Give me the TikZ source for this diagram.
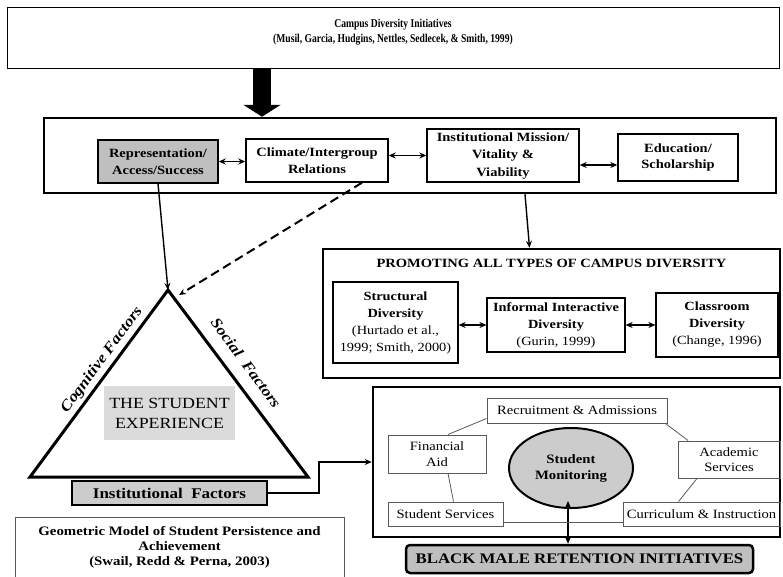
\documentclass[tikz,border=0pt]{standalone}
\usepackage{fontspec}
\setmainfont{Liberation Serif}[FakeStretch=1.15]
\newfontfamily\narrowserif{Liberation Serif}[FakeStretch=0.8]
\usetikzlibrary{arrows.meta, shapes.geometric}

\definecolor{darkfill}{gray}{0.75}
\definecolor{midfill}{gray}{0.80}
\definecolor{lightfill}{gray}{0.86}
\definecolor{thinline}{gray}{0.35}

\newcommand{\fs}[2]{\fontsize{#1}{#2}\selectfont}

\tikzset{
    rowbox/.style={draw,line width=1.4pt,align=center,inner sep=1pt,font=\fs{12.6}{16.5}\bfseries},
    typebox/.style={draw,line width=1.2pt,align=center,inner sep=1pt,font=\fs{12.5}{17}},
    unitbox/.style={draw=thinline,line width=1pt,align=center,inner sep=1pt,font=\fs{12.7}{15.5}},
    frame/.style={draw,line width=2.5pt,inner sep=0pt},
    linkline/.style={draw=thinline,line width=0.8pt}
}

\begin{document}
\begin{tikzpicture}[x=1pt,y=-1pt]
\useasboundingbox (0,0) rectangle (783,576);

% % frames
\node (top) at (393,37.5) [draw,line width=1pt,minimum width=772,minimum height=61] {};
\node (toptitle) at (393,32.5) [align=center,font=\narrowserif\bfseries\fs{12}{15}] {Campus Diversity Initiatives\\(Musil, Garcia, Hudgins, Nettles, Sedlecek, \& Smith, 1999)};
\node (midbox) at (410,155.5) [frame,minimum width=732,minimum height=75] {};
\node (pbox) at (551.5,313.5) [frame,minimum width=457,minimum height=129] {};
\node (ptitle) at (551.5,263) [font=\fs{12.6}{15}\bfseries] {PROMOTING ALL TYPES OF CAMPUS DIVERSITY};
\node (rbox) at (576.5,462) [frame,minimum width=407,minimum height=150] {};
\node (geo) at (179.5,517) [anchor=north,draw=thinline,line width=1pt,minimum width=329,minimum height=60,align=center,font=\fs{12.9}{15}\bfseries] {Geometric Model of Student Persistence and\\Achievement\\(Swail, Redd \& Perna, 2003)};

% % campus diversity row
\node (rep) at (158,161.5) [rowbox,fill=darkfill,minimum width=120,minimum height=43] {Representation/\\Access/Success};
\node (climate) at (317,160.5) [rowbox,minimum width=142,minimum height=43] {Climate/Intergroup\\Relations};
\node (inst) at (503,155.5) [rowbox,minimum width=152,minimum height=53,font=\fs{12.6}{17.5}\bfseries] {Institutional Mission/\\Vitality \&\\Viability};
\node (edu) at (678,157.5) [rowbox,minimum width=120,minimum height=47] {Education/\\Scholarship};

% % types of diversity
\node (struct) at (395.5,322.5) [typebox,minimum width=125,minimum height=81] {\textbf{Structural}\\\textbf{Diversity}\\(Hurtado et al.,\\1999; Smith, 2000)};
\node (inform) at (556,325) [typebox,minimum width=138,minimum height=54] {\textbf{Informal Interactive}\\\textbf{Diversity}\\(Gurin, 1999)};
\node (class) at (717,325) [typebox,minimum width=122,minimum height=64] {\textbf{Classroom}\\\textbf{Diversity}\\(Change, 1996)};

% % student experience triangle
\coordinate (apex) at (168,290);
\coordinate (bl) at (30,477);
\coordinate (br) at (308,477);
\coordinate (sideend) at (179,295);
\draw [line width=3pt] (apex) -- (bl) -- (br) -- cycle;
\node (cog) at (102,360) [rotate=53.6,font=\fs{15}{17}\bfseries\itshape] {Cognitive Factors};
\node (soc) at (246,363) [rotate=-53.6,font=\fs{15}{17}\bfseries\itshape] {Social\ \ Factors};
\node (exp) at (169.5,413) [fill=lightfill,minimum width=131,minimum height=54,align=center,font=\fs{15.5}{20}] {THE STUDENT\\EXPERIENCE};
\node (instf) at (169.5,493) [draw,line width=2.5pt,fill=midfill,minimum width=195,minimum height=24,font=\fs{14.8}{16}\bfseries] {Institutional\ \ Factors};

% % retention units
\node (recruit) at (577,410.5) [unitbox,minimum width=180,minimum height=25] {Recruitment \& Admissions};
\node (finaid) at (437,454) [unitbox,minimum width=98,minimum height=38] {Financial\\Aid};
\node (studserv) at (445.5,514) [unitbox,minimum width=115,minimum height=24] {Student Services};
\node (acad) at (729,459.5) [unitbox,minimum width=102,minimum height=37] {Academic\\Services};
\node (curric) at (701.5,514) [unitbox,minimum width=157,minimum height=24] {Curriculum \& Instruction};
\node (monitor) at (571,468) [ellipse,draw,line width=2pt,fill=midfill,minimum width=124,minimum height=80,inner sep=0pt,align=center,font=\fs{12.8}{16}\bfseries] {Student\\Monitoring};
\node (bmri) at (579.5,559) [draw,line width=2.5pt,rounded corners=4pt,fill=darkfill,minimum width=347,minimum height=28,font=\fs{14.6}{16}\bfseries] {BLACK MALE RETENTION INITIATIVES};

% % connectors
\draw [line width=18pt,-{Triangle[width=37pt,length=12pt]}] ([xshift=-131]top.south) -- ([xshift=-148]midbox.north);

\begin{scope}[>={Stealth[length=7pt,width=6pt]},
              every edge/.style={draw,line width=1.4pt}]
    \path [<->] (rep.east) edge (rep.east -| climate.west);
    \path [<->] (climate.east |- inst) edge (inst.west);
    \path [<->] ([yshift=-9.5]inst.east) edge ([yshift=-9.5]inst.east -| edu.west);
    \path [<->] (struct.east |- inform) edge (inform.west);
    \path [<->] (inform.east) edge (class.west);

    \coordinate (instout) at ([xshift=22]inst.south |- midbox.south);
    \path [->] (instout) edge ([xshift=-22]pbox.north);
    \path [->] (rep.south) edge (apex);
    \path [->] ([xshift=45]climate.south) edge [dashed,dash pattern=on 9pt off 5pt,line width=2pt] (sideend);
    \draw [->,line width=2pt] (instf.east) -- ++(51,0) |- (rbox.west);

    \coordinate (monlow) at ([xshift=-3,yshift=8]monitor.south);
    \path [<->] (monlow) edge [line width=2pt] (monlow |- bmri.north);
\end{scope}

% % links between units
\path [linkline] ([yshift=5]recruit.south west) -- ([xshift=11]finaid.north);
\path [linkline] ([xshift=-2]recruit.south east) -- ([xshift=-41]acad.north);
\path [linkline] ([xshift=11]finaid.south) -- ([xshift=8]studserv.north);
\path [linkline] ([xshift=-32]acad.south) -- ([xshift=-23]curric.north);
\path [linkline] ([yshift=-8]studserv.east) -- ([yshift=-8]curric.west);
\end{tikzpicture}
\end{document}
